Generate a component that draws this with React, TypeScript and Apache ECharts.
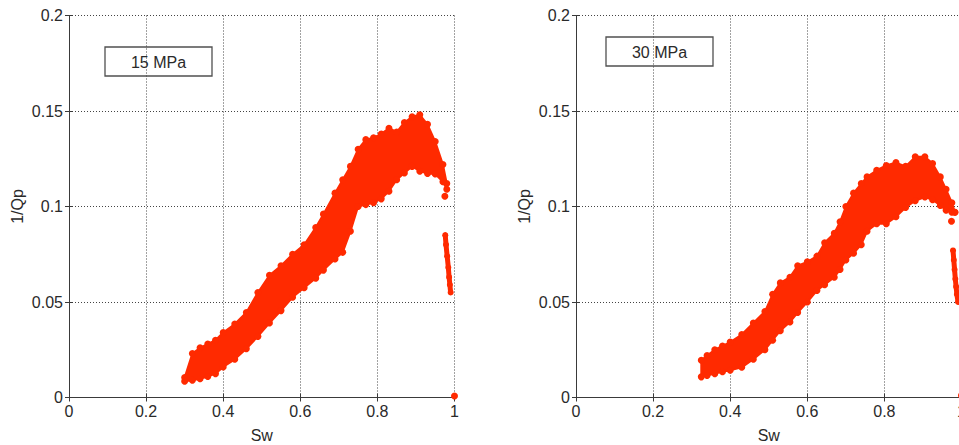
import React, { useEffect, useRef } from "react";
import * as echarts from "echarts";

// 15 MPa: water saturation samples with upper / lower edge of the 1/Qp cloud
const sw15 = [0.30, 0.32, 0.34, 0.36, 0.38, 0.40, 0.43, 0.46, 0.49, 0.52, 0.55, 0.58, 0.61, 0.64, 0.66, 0.69, 0.71, 0.73, 0.75, 0.77, 0.79, 0.81, 0.83, 0.85, 0.87, 0.89, 0.91, 0.93, 0.95, 0.97, 0.98];
const upper15 = [0.0105, 0.023, 0.026, 0.028, 0.030, 0.034, 0.0385, 0.0445, 0.055, 0.064, 0.069, 0.075, 0.080, 0.089, 0.096, 0.107, 0.114, 0.121, 0.130, 0.135, 0.136, 0.138, 0.141, 0.139, 0.144, 0.147, 0.148, 0.143, 0.134, 0.122, 0.112];
const lower15 = [0.0085, 0.009, 0.0098, 0.011, 0.0125, 0.016, 0.020, 0.0255, 0.032, 0.039, 0.0455, 0.0525, 0.0575, 0.0625, 0.0667, 0.0725, 0.076, 0.087, 0.100, 0.101, 0.102, 0.104, 0.108, 0.114, 0.1175, 0.121, 0.1185, 0.1173, 0.117, 0.113, 0.109];
// separate streak close to full saturation
const streakSw15 = [0.976, 0.978, 0.981, 0.984, 0.986, 0.988, 0.990];
const streakQ15 = [0.085, 0.080, 0.074, 0.068, 0.063, 0.059, 0.055];
const extraSw15 = [0.975, 1.0];
const extraQ15 = [0.1054, 0.0008];

// 30 MPa
const sw30 = [0.325, 0.34, 0.36, 0.38, 0.40, 0.43, 0.46, 0.49, 0.51, 0.53, 0.555, 0.575, 0.60, 0.625, 0.645, 0.67, 0.685, 0.70, 0.72, 0.74, 0.755, 0.78, 0.805, 0.83, 0.855, 0.88, 0.905, 0.925, 0.945, 0.96, 0.975, 0.983];
const upper30 = [0.0195, 0.022, 0.025, 0.027, 0.029, 0.033, 0.039, 0.045, 0.054, 0.060, 0.063, 0.069, 0.071, 0.074, 0.081, 0.086, 0.092, 0.100, 0.107, 0.112, 0.1155, 0.119, 0.1215, 0.123, 0.121, 0.126, 0.126, 0.1225, 0.1155, 0.109, 0.102, 0.097];
const lower30 = [0.0108, 0.0115, 0.0125, 0.0135, 0.0143, 0.0158, 0.020, 0.025, 0.030, 0.035, 0.0395, 0.0445, 0.050, 0.056, 0.059, 0.063, 0.067, 0.072, 0.0755, 0.080, 0.087, 0.091, 0.091, 0.0946, 0.0995, 0.103, 0.105, 0.1035, 0.1005, 0.098, 0.097, 0.097];
const streakSw30 = [0.978, 0.980, 0.982, 0.984, 0.986, 0.988, 0.991];
const streakQ30 = [0.077, 0.072, 0.067, 0.062, 0.058, 0.054, 0.050];
const extraSw30 = [0.974, 1.0];
const extraQ30 = [0.0923, 0.001];

const xTicks = { min: 0, max: 1, interval: 0.2 };
const yTicks = { min: 0, max: 0.2, interval: 0.05 };
const panelLabels = ["15 MPa", "30 MPa"];

const RED = "#ff2a00";
const FONT = "'Liberation Sans', Arial, sans-serif";
const TEXT = "#2a2a2a";

function zip(a: number[], b: number[]) {
  return a.map((v, i) => [v, b[i]]);
}

function bandSeries(axis: number, sw: number[], hi: number[], lo: number[]) {
  return {
    type: "custom",
    xAxisIndex: axis,
    yAxisIndex: axis,
    data: [[sw[0], lo[0]]],
    silent: true,
    renderItem: (_p: any, api: any) => {
      const pts: number[][] = [];
      for (let i = 0; i < sw.length; i++) pts.push(api.coord([sw[i], hi[i]]));
      for (let i = sw.length - 1; i >= 0; i--) pts.push(api.coord([sw[i], lo[i]]));
      return {
        type: "polygon",
        shape: { points: pts },
        style: { fill: RED, stroke: RED, lineWidth: 2, lineJoin: "round" },
      };
    },
  };
}

function dotSeries(axis: number, data: number[][], size = 7) {
  return {
    type: "scatter",
    xAxisIndex: axis,
    yAxisIndex: axis,
    data,
    symbol: "circle",
    symbolSize: size,
    itemStyle: { color: RED, opacity: 1 },
    silent: true,
  };
}

function streakSeries(axis: number, data: number[][]) {
  return {
    type: "line",
    xAxisIndex: axis,
    yAxisIndex: axis,
    data,
    symbol: "circle",
    symbolSize: 6,
    showSymbol: true,
    itemStyle: { color: RED, opacity: 1 },
    lineStyle: { color: RED, width: 5, cap: "round", join: "round" },
    silent: true,
  };
}

const gridLine = { show: true, lineStyle: { color: "#444", width: 1, type: [1, 2] } };
const frameLine = { show: true, lineStyle: { color: "#3a3a3a", width: 1 } };
const label = { color: TEXT, fontFamily: FONT, fontSize: 16 };

function axesFor(gridIndex: number) {
  const x = [
    {
      type: "value", gridIndex, position: "bottom", ...xTicks,
      name: "Sw", nameLocation: "middle", nameGap: 30,
      nameTextStyle: { color: TEXT, fontFamily: FONT, fontSize: 16 },
      axisLine: frameLine,
      axisTick: { show: true, inside: true, length: 4, lineStyle: { color: "#3a3a3a" } },
      axisLabel: { ...label, margin: 6 },
      splitLine: gridLine,
    },
    {
      type: "value", gridIndex, position: "top", ...xTicks,
      axisLine: frameLine,
      axisTick: { show: true, inside: true, length: 4, lineStyle: { color: "#3a3a3a" } },
      axisLabel: { show: false },
      splitLine: { show: false },
    },
  ];
  const y = [
    {
      type: "value", gridIndex, position: "left", ...yTicks,
      name: "1/Qp", nameLocation: "middle", nameGap: 44, nameRotate: 90,
      nameTextStyle: { color: TEXT, fontFamily: FONT, fontSize: 16 },
      axisLine: frameLine,
      axisTick: { show: true, inside: true, length: 4, lineStyle: { color: "#3a3a3a" } },
      axisLabel: { ...label, margin: 6 },
      splitLine: gridLine,
    },
    {
      type: "value", gridIndex, position: "right", ...yTicks,
      axisLine: frameLine,
      axisTick: { show: true, inside: true, length: 4, lineStyle: { color: "#3a3a3a" } },
      axisLabel: { show: false },
      splitLine: { show: false },
    },
  ];
  return { x, y };
}

function labelBox(x: number, y: number, text: string) {
  return {
    type: "group",
    x,
    y,
    z: 100,
    children: [
      {
        type: "rect",
        shape: { x: 0, y: 0, width: 107, height: 29 },
        style: { fill: "#fff", stroke: "#505050", lineWidth: 1.3 },
      },
      {
        type: "text",
        x: 53.5,
        y: 15,
        style: {
          text,
          fill: TEXT,
          font: `16px ${FONT}`,
          textAlign: "center",
          textVerticalAlign: "middle",
        },
      },
    ],
  };
}

export default function App() {
  const ref = useRef<HTMLDivElement>(null);

  useEffect(() => {
    if (!ref.current) return;
    const chart = echarts.init(ref.current, undefined, { renderer: "svg" });
    const a0 = axesFor(0);
    const a1 = axesFor(1);
    // axis indices: grid0 -> x0/x1, y0/y1 ; grid1 -> x2/x3, y2/y3
    chart.setOption({
      animation: false,
      backgroundColor: "#fff",
      grid: [
        { left: 69, top: 15.5, width: 385.5, height: 382, containLabel: false, outerBoundsMode: "none" },
        { left: 576, top: 15.5, width: 385.5, height: 382, containLabel: false, outerBoundsMode: "none" },
      ],
      xAxis: [...a0.x, ...a1.x],
      yAxis: [...a0.y, ...a1.y],
      series: [
        bandSeries(0, sw15, upper15, lower15),
        dotSeries(0, zip(sw15, upper15)),
        dotSeries(0, zip(sw15, lower15)),
        streakSeries(0, zip(streakSw15, streakQ15)),
        dotSeries(0, zip(extraSw15, extraQ15)),
        bandSeries(2, sw30, upper30, lower30),
        dotSeries(2, zip(sw30, upper30)),
        dotSeries(2, zip(sw30, lower30)),
        streakSeries(2, zip(streakSw30, streakQ30)),
        dotSeries(2, zip(extraSw30, extraQ30)),
      ],
      graphic: [labelBox(105, 47, panelLabels[0]), labelBox(606, 37, panelLabels[1])],
    });
    return () => chart.dispose();
  }, []);

  return (
    <div
      ref={ref}
      style={{ position: "fixed", left: 0, top: 0, width: 959, height: 445, background: "#fff" }}
    />
  );
}
